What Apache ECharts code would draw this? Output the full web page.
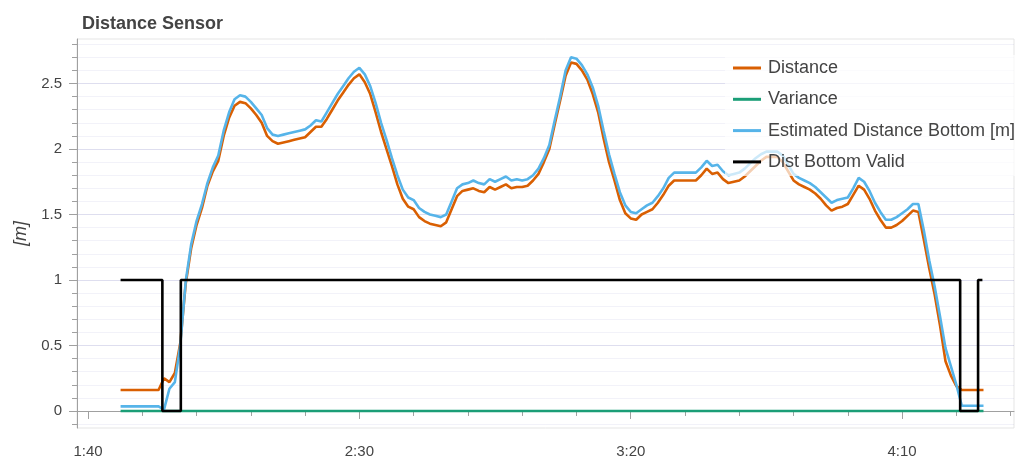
<!DOCTYPE html>
<html>
<head>
<meta charset="utf-8">
<script src="https://cdn.jsdelivr.net/npm/echarts@6/dist/echarts.min.js"></script>
<style>
  html, body { margin: 0; padding: 0; background: #ffffff; }
  #chart { width: 1017px; height: 460px; }
</style>
</head>
<body>
<div id="chart"></div>
<script>
// Sample clock: one sample per second, log time in seconds
const sampleStart = 106;
const sampleStep = 1;

// Distance sensor reading [m]
const distance = [
  0.16, 0.16, 0.16, 0.16, 0.16, 0.16, 0.16, 0.16,
  0.25, 0.22, 0.29, 0.52, 0.97, 1.24, 1.42, 1.55, 1.72, 1.83, 1.91, 2.10,
  2.24, 2.33, 2.36, 2.35, 2.31, 2.26, 2.20, 2.10, 2.06, 2.04,
  2.05, 2.06, 2.07, 2.08, 2.09, 2.13, 2.17, 2.17, 2.23, 2.30,
  2.37, 2.43, 2.49, 2.54, 2.57, 2.51, 2.42, 2.28, 2.13, 2.00,
  1.87, 1.73, 1.62, 1.56, 1.54, 1.48, 1.45, 1.43, 1.42, 1.41,
  1.44, 1.54, 1.64, 1.68, 1.69, 1.70, 1.68, 1.67, 1.71, 1.69,
  1.71, 1.73, 1.70, 1.71, 1.71, 1.72, 1.76, 1.81, 1.90, 2.00,
  2.19, 2.37, 2.56, 2.66, 2.65, 2.60, 2.53, 2.42, 2.28, 2.08,
  1.90, 1.76, 1.61, 1.51, 1.47, 1.46, 1.50, 1.52, 1.54, 1.59,
  1.65, 1.72, 1.76, 1.76, 1.76, 1.76, 1.76, 1.80, 1.85, 1.81,
  1.82, 1.77, 1.74, 1.75, 1.76, 1.79, 1.83, 1.87, 1.91, 1.94,
  1.94, 1.94, 1.90, 1.83, 1.76, 1.73, 1.71, 1.69, 1.66, 1.62,
  1.57, 1.53, 1.55, 1.56, 1.58, 1.65, 1.72, 1.69, 1.62, 1.53,
  1.46, 1.40, 1.40, 1.42, 1.45, 1.49, 1.53, 1.52, 1.31, 1.09,
  0.89, 0.65, 0.38, 0.27, 0.19,
  0.16, 0.16, 0.16, 0.16, 0.16
];

// Estimated distance to bottom [m]
const estimatedBottom = [
  0.035, 0.035, 0.035, 0.035, 0.035, 0.035, 0.035, 0.035,
  0.01, 0.17, 0.22, 0.50, 0.99, 1.27, 1.45, 1.58, 1.74, 1.86, 1.95, 2.14,
  2.28, 2.38, 2.41, 2.40, 2.36, 2.31, 2.26, 2.16, 2.11, 2.10,
  2.11, 2.12, 2.13, 2.14, 2.15, 2.18, 2.22, 2.21, 2.28, 2.35,
  2.42, 2.48, 2.54, 2.59, 2.62, 2.57, 2.48, 2.35, 2.20, 2.07,
  1.93, 1.80, 1.69, 1.63, 1.61, 1.55, 1.52, 1.50, 1.49, 1.48,
  1.50, 1.60, 1.70, 1.73, 1.74, 1.76, 1.74, 1.73, 1.77, 1.75,
  1.77, 1.79, 1.76, 1.77, 1.76, 1.77, 1.80, 1.85, 1.93, 2.03,
  2.22, 2.40, 2.60, 2.70, 2.69, 2.64, 2.57, 2.47, 2.33, 2.14,
  1.96, 1.81, 1.67, 1.57, 1.52, 1.51, 1.54, 1.57, 1.59, 1.64,
  1.70, 1.78, 1.82, 1.82, 1.82, 1.82, 1.82, 1.86, 1.91, 1.87,
  1.88, 1.83, 1.80, 1.81, 1.82, 1.85, 1.89, 1.93, 1.96, 1.98,
  1.98, 1.98, 1.95, 1.88, 1.81, 1.78, 1.76, 1.74, 1.71, 1.67,
  1.63, 1.59, 1.61, 1.62, 1.63, 1.70, 1.78, 1.75, 1.68, 1.59,
  1.52, 1.46, 1.46, 1.48, 1.51, 1.54, 1.58, 1.58, 1.38, 1.15,
  0.95, 0.72, 0.48, 0.34, 0.20,
  0.04, 0.04, 0.04, 0.04, 0.04
];

// Variance of the range reading
const varianceTimes = [106, 130, 160, 190, 220, 250, 265];
const varianceValues = [0, 0, 0, 0, 0, 0, 0];

// Bottom distance validity flag (held until the next change)
const validTimes = [106, 113.7, 117.1, 260.7, 264.0, 264.8];
const validValues = [1, 0, 1, 0, 1, 1];

// Axis ticks
const xMajorTicks = [100, 150, 200, 250];
const xMinorTicks = [110, 120, 130, 140, 160, 170, 180, 190, 210, 220, 230, 240, 260, 270];
const yMajorTicks = [0, 0.5, 1, 1.5, 2, 2.5];
const yMinorTicks = [-0.1, 0.1, 0.2, 0.3, 0.4, 0.6, 0.7, 0.8, 0.9, 1.1, 1.2, 1.3, 1.4,
  1.6, 1.7, 1.8, 1.9, 2.1, 2.2, 2.3, 2.4, 2.6, 2.7, 2.8];

const seriesNames = ['Distance', 'Variance', 'Estimated Distance Bottom [m]', 'Dist Bottom Valid'];
const seriesColors = ['#d95f02', '#1b9e77', '#56b4e9', '#000000'];

const X_MIN = 97.97, X_MAX = 270.62;
const Y_MIN = -0.13, Y_MAX = 2.84;

const FONT = '"Liberation Sans", Arial, Helvetica, sans-serif';
const TEXT = '#444444';
const AXIS = '#a0a0a0';

const sampleTimes = distance.map((_, i) => sampleStart + i * sampleStep);
const pairs = (xs, ys) => xs.map((x, i) => [x, ys[i]]);

function clock(v) {
  const s = Math.round(v);
  const m = Math.floor(s / 60);
  const r = s % 60;
  return m + ':' + (r < 10 ? '0' : '') + r;
}

const chart = echarts.init(document.getElementById('chart'), null, { renderer: 'canvas' });

const baseX = {
  type: 'value', min: X_MIN, max: X_MAX, position: 'bottom', offset: 0,
  splitLine: { show: false }
};
const baseY = {
  type: 'value', min: Y_MIN, max: Y_MAX, position: 'left', offset: 0
};

chart.setOption({
  animation: false,
  backgroundColor: '#ffffff',
  color: seriesColors,
  title: {
    text: 'Distance Sensor',
    left: 77, top: 10,
    textStyle: { fontFamily: FONT, fontSize: 18, fontWeight: 'bold', color: TEXT }
  },
  grid: {
    left: 77, right: 3, top: 39, bottom: 32,
    show: true, borderColor: '#e5e5e5', borderWidth: 1, backgroundColor: 'transparent'
  },
  legend: {
    orient: 'vertical',
    left: 725, top: 55,
    padding: [4, 2, 5, 8],
    icon: 'rect',
    itemWidth: 28, itemHeight: 3, itemGap: 13.3,
    backgroundColor: 'rgba(255,255,255,0.7)',
    textStyle: { fontFamily: FONT, fontSize: 18, lineHeight: 18, color: TEXT, padding: [0, 0, 0, 2] },
    data: seriesNames
  },
  xAxis: [
    Object.assign({}, baseX, {
      axisLine: { show: true, lineStyle: { color: AXIS, width: 1 } },
      axisTick: { show: true, length: 5, customValues: xMinorTicks, lineStyle: { color: AXIS } },
      axisLabel: { show: false }
    }),
    Object.assign({}, baseX, {
      axisLine: { show: false },
      axisTick: { show: true, length: 8, customValues: xMajorTicks, lineStyle: { color: AXIS } },
      axisLabel: {
        show: true, customValues: xMajorTicks, margin: 16,
        fontFamily: FONT, fontSize: 15, color: TEXT,
        formatter: clock
      }
    })
  ],
  yAxis: [
    Object.assign({}, baseY, {
      axisLine: { show: true, lineStyle: { color: AXIS, width: 1 } },
      axisTick: { show: true, length: 5, customValues: yMinorTicks, lineStyle: { color: AXIS } },
      axisLabel: { show: false },
      splitLine: { show: true, lineStyle: { color: 'rgba(0,0,128,0.05)', width: 1 } }
    }),
    Object.assign({}, baseY, {
      name: '[m]',
      nameLocation: 'middle',
      nameGap: 45,
      nameTextStyle: { fontFamily: FONT, fontSize: 18, fontStyle: 'italic', color: TEXT },
      axisLine: { show: false },
      axisTick: { show: true, length: 8, customValues: yMajorTicks, lineStyle: { color: AXIS } },
      axisLabel: {
        show: true, customValues: yMajorTicks, margin: 15,
        fontFamily: FONT, fontSize: 15, color: TEXT
      },
      splitLine: { show: true, lineStyle: { color: 'rgba(0,0,128,0.13)', width: 1 } }
    })
  ],
  series: [
    {
      name: seriesNames[0], type: 'line', xAxisIndex: 0, yAxisIndex: 0,
      symbol: 'none', lineStyle: { width: 2.6 },
      data: pairs(sampleTimes, distance)
    },
    {
      name: seriesNames[1], type: 'line', xAxisIndex: 0, yAxisIndex: 0,
      symbol: 'none', lineStyle: { width: 2.6 },
      data: pairs(varianceTimes, varianceValues)
    },
    {
      name: seriesNames[2], type: 'line', xAxisIndex: 0, yAxisIndex: 0,
      symbol: 'none', lineStyle: { width: 2.6 },
      data: pairs(sampleTimes, estimatedBottom)
    },
    {
      name: seriesNames[3], type: 'line', xAxisIndex: 0, yAxisIndex: 0,
      symbol: 'none', step: 'end', lineStyle: { width: 2.6 },
      data: pairs(validTimes, validValues)
    }
  ]
});
</script>
</body>
</html>
